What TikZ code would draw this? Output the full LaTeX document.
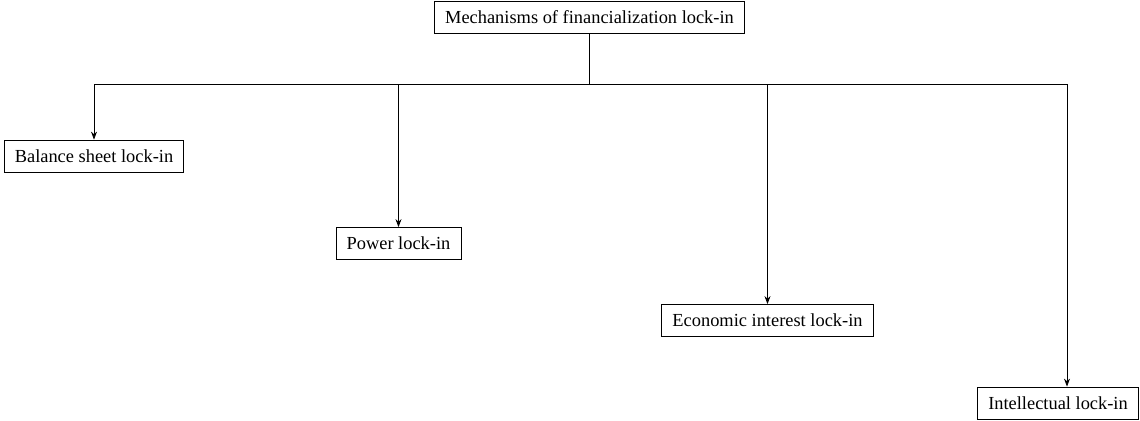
\documentclass[tikz,border=0pt]{standalone}
\usepackage{fontspec}
\setmainfont{Liberation Serif}
\usetikzlibrary{arrows.meta}

\begin{document}
\begin{tikzpicture}[x=0.75pt,y=-0.75pt,line width=0.6pt,>={Stealth[length=6pt,width=4.5pt]},
  every node/.style={draw=black,rectangle,inner xsep=8pt,inner ysep=0pt,minimum height=24pt,font=\fontsize{13.8}{16}\selectfont}]
\useasboundingbox (0,0) rectangle (1140,421);
\node (mech) at (589.5, 17) {Mechanisms of financialization lock-in};
\node (bal) at (94, 156) {Balance sheet lock-in};
\node (pow) at (398.5, 243.5) {Power lock-in};
\node (eco) at (767.5, 320.5) {Economic interest lock-in};
\node (int) at (1058, 403) {Intellectual lock-in};
\coordinate (hub) at (589.5, 84);
\coordinate (l) at (94, 84);
\coordinate (r) at (1067, 84);
\draw (mech) to (hub);
\draw (l) to (r);
\draw [->] (l) to (bal);
\draw [->] (pow |- hub) to (pow);
\draw [->] (eco |- hub) to (eco);
\draw [->] (r) to (r |- int.north);
      \end{tikzpicture}
\end{document}
